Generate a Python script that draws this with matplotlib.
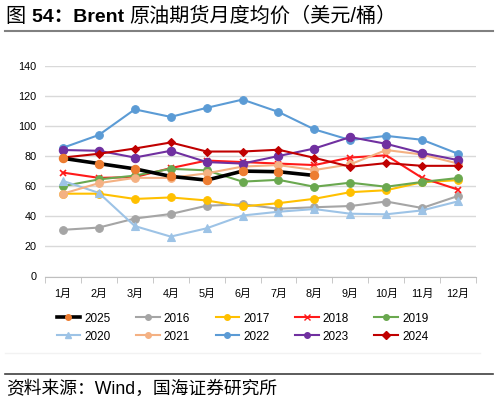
import numpy as np
import matplotlib.pyplot as plt
from matplotlib.lines import Line2D

plt.rcParams['font.family'] = ['Liberation Sans', 'Noto Sans CJK SC', 'DejaVu Sans']

months = [f'{i}月' for i in range(1, 13)]

# Monthly average Brent price (USD/bbl)
y2016 = [31, 32.5, 38.5, 41.5, 47, 48, 45, 46, 46.8, 49.8, 45.5, 53.5]
y2017 = [55, 55, 51.5, 52.5, 50.5, 46.5, 48.7, 51.6, 56, 57.3, 62.6, 64]
y2018 = [69, 65.5, 66, 72, 77, 76, 75, 74, 79, 80.5, 65.5, 57.7]
y2019 = [60, 64.5, 67, 71.5, 70.5, 63, 64.2, 59.6, 62.3, 59.6, 62.8, 65.4]
y2020 = [63.5, 55.5, 33.5, 26.5, 32, 40.5, 43, 44.8, 41.7, 41.3, 43.9, 49.9]
y2021 = [55, 62, 65.5, 65.5, 68.5, 73, 74, 70.7, 74.5, 84, 81, 75]
y2022 = [85.5, 94, 111, 106, 112, 117.5, 109.3, 97.7, 90.6, 93.4, 90.8, 81.5]
y2023 = [84, 83.5, 79, 83.5, 76, 75, 80, 85, 92.6, 88.1, 82, 77.3]
y2024 = [79, 81.5, 85, 89, 83, 83, 84.2, 78.8, 72.9, 75.3, 73.5, 73.5]
y2025 = [78.5, 75, 71.5, 66.5, 64, 70, 69.6, 67.1]

series = [
    ('2016', y2016, '#A5A5A5', '#A5A5A5', 'o', 5.5, 1.5),
    ('2017', y2017, '#FFC000', '#FFC000', 'o', 5.5, 1.5),
    ('2018', y2018, '#FF1A1A', '#FF1A1A', 'x', 5, 1.5),
    ('2019', y2019, '#6AA84F', '#6AA84F', 'o', 5.5, 1.5),
    ('2020', y2020, '#9DC3E6', '#9DC3E6', '^', 5.5, 1.5),
    ('2021', y2021, '#F4B183', '#F4B183', 'o', 5.5, 1.5),
    ('2022', y2022, '#5B9BD5', '#5B9BD5', 'o', 5.5, 1.5),
    ('2023', y2023, '#7030A0', '#7030A0', 'o', 6, 1.5),
    ('2024', y2024, '#C00000', '#C00000', 'D', 4, 1.5),
    ('2025', y2025, '#000000', '#ED7D31', 'o', 6, 2.6),
]

fig = plt.figure(figsize=(4.98, 4.03), dpi=100)
ax = fig.add_axes([45 / 498, 1 - 276.5 / 403, 431 / 498, 210.8 / 403])

handles = {}
for name, vals, lc, mc, mk, ms, lw in series:
    x = np.arange(len(vals))
    z = 5 if name == '2025' else 3
    h, = ax.plot(x, vals, color=lc, lw=lw, marker=mk, markersize=ms,
                 markerfacecolor=mc, markeredgecolor=mc,
                 markeredgewidth=1.2 if mk == 'x' else 0.8, zorder=z)
    handles[name] = h

ax.set_xlim(-0.5, 11.5)
ax.set_ylim(0, 140)
ax.set_yticks(range(0, 141, 20))
ax.set_xticks(range(12))
ax.set_xticklabels(months)
ax.set_xticks(np.arange(-0.5, 12, 1), minor=True)
ax.tick_params(axis='x', which='major', length=0, pad=9, labelsize=7.8)
ax.tick_params(axis='x', which='minor', length=4, color='#BFBFBF', direction='out')
ax.tick_params(axis='y', length=0, pad=6, labelsize=7.8)
ax.grid(axis='y', color='#D9D9D9', lw=1)
ax.set_axisbelow(True)
for s in ['top', 'right', 'left']:
    ax.spines[s].set_visible(False)
ax.spines['bottom'].set_color('#BFBFBF')

# legend filled column by column, so this order gives two rows as in the reference
order = ['2025', '2020', '2016', '2021', '2017',
         '2022', '2018', '2023', '2019', '2024']
leg_handles = []
for name in order:
    h = handles[name]
    leg_handles.append(Line2D([], [], color=h.get_color(), lw=h.get_linewidth(),
                              marker=h.get_marker(), markersize=4,
                              markerfacecolor=h.get_markerfacecolor(),
                              markeredgecolor=h.get_markeredgecolor()))
fig.legend(leg_handles, order, ncol=5, loc='upper center',
           bbox_to_anchor=(0.487, 1 - 302 / 403), frameon=False, fontsize=8.5,
           handlelength=2.0, handletextpad=0.35, columnspacing=2.15,
           labelspacing=0.5)

# title in pieces: latin part bold, CJK part regular
t1 = fig.text(6 / 498, 1 - 21.5 / 403, '图 ', fontsize=14.5, va='baseline', ha='left')
t2 = ax.annotate('54：Brent ', xy=(1, 0), xycoords=t1, fontsize=14,
                 fontweight='bold', va='bottom', ha='left', annotation_clip=False)
ax.annotate('原油期货月度均价（美元/桶）', xy=(1, 0), xycoords=t2, fontsize=14.5,
            va='bottom', ha='left', annotation_clip=False)
fig.add_artist(Line2D([5 / 498, 493 / 498], [1 - 31 / 403] * 2,
                      color='#808080', lw=1.5))
fig.add_artist(Line2D([5 / 498, 480 / 498], [1 - 353 / 403] * 2,
                      color='#F2F2F2', lw=1))
fig.add_artist(Line2D([5 / 498, 493 / 498], [1 - 374 / 403] * 2,
                      color='#404040', lw=1.2))
fig.text(6 / 498, 1 - 389 / 403, '资料来源：Wind，国海证券研究所',
         fontsize=12.8, va='center', ha='left')

fig.savefig('out.png', dpi=100)
